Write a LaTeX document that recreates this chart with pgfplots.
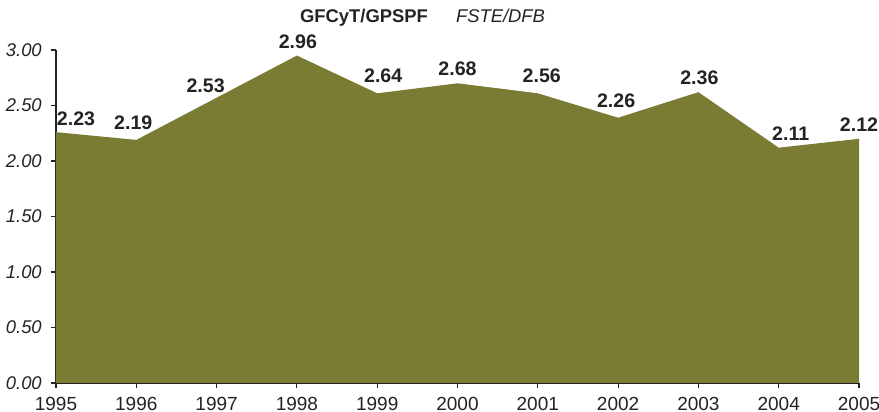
\documentclass[border=0pt]{standalone}
\usepackage{pgfplots}
\pgfplotsset{compat=1.18}
\usepackage{pgfplotstable}
\usepackage{fontspec}
\setmainfont{Liberation Sans}
\definecolor{areaolive}{RGB}{123,124,52}
\definecolor{tk}{RGB}{35,35,35}

\pgfplotstableread{
x y lab dx dy
1995 2.26 2.23 10 3
1996 2.19 2.19 -1.5 5
1997 2.57 2.53 -5.5 2.5
1998 2.95 2.96 0.5 3
1999 2.61 2.64 3 5
2000 2.70 2.68 0 3.5
2001 2.61 2.56 2 5
2002 2.39 2.26 -1 5
2003 2.62 2.36 0.5 3.5
2004 2.12 2.11 6 3.5
2005 2.20 2.12 0 3.5
}\datatable

\begin{document}
\begin{tikzpicture}[x=1pt,y=1pt]
\begin{axis}[
  at={(0,0)}, anchor=south west,
  scale only axis, width=401.5pt, height=166.5pt,
  xmin=1995, xmax=2005, ymin=0, ymax=3,
  axis lines*=left,
  axis line style={tk, line width=0.6pt},
  tick align=outside,
  major tick length=2.6pt,
  tick style={tk, line width=0.6pt},
  xtick={1995,1996,...,2005},
  ytick={0,0.5,...,3},
  /pgf/number format/assume math mode=true,
  xticklabel style={/pgf/number format/1000 sep={}, font=\fontsize{9.5}{10}\selectfont, text=tk, yshift=-1pt},
  yticklabel style={/pgf/number format/fixed, /pgf/number format/fixed zerofill, /pgf/number format/precision=2, font=\itshape\fontsize{9.2}{10}\selectfont, text=tk, xshift=-1pt},
  clip=false,
]
\addplot[fill=areaolive, draw=none] table[x=x, y=y] {\datatable} \closedcycle;
\addplot[draw=none, mark=none,
  nodes near coords,
  point meta=explicit symbolic,
  visualization depends on={\thisrow{dx} \as \dx},
  visualization depends on={\thisrow{dy} \as \dy},
  every node near coord/.append style={anchor=south, inner sep=0pt, xshift=\dx pt, yshift=\dy pt, font=\bfseries\fontsize{9.8}{10}\selectfont, text=tk},
] table[x=x, y=y, meta=lab] {\datatable};
\end{axis}
\node[anchor=base, inner sep=0pt, font=\bfseries\fontsize{9.2}{10}\selectfont, text=tk] at (154,180) {GFCyT/GPSPF};
\node[anchor=base, inner sep=0pt, font=\itshape\fontsize{9.2}{10}\selectfont, text=tk] at (222.25,180) {FSTE/DFB};
\pgfresetboundingbox
\path[use as bounding box] (-28,-14.5) rectangle (411.5,191.5);
\end{tikzpicture}
\end{document}
